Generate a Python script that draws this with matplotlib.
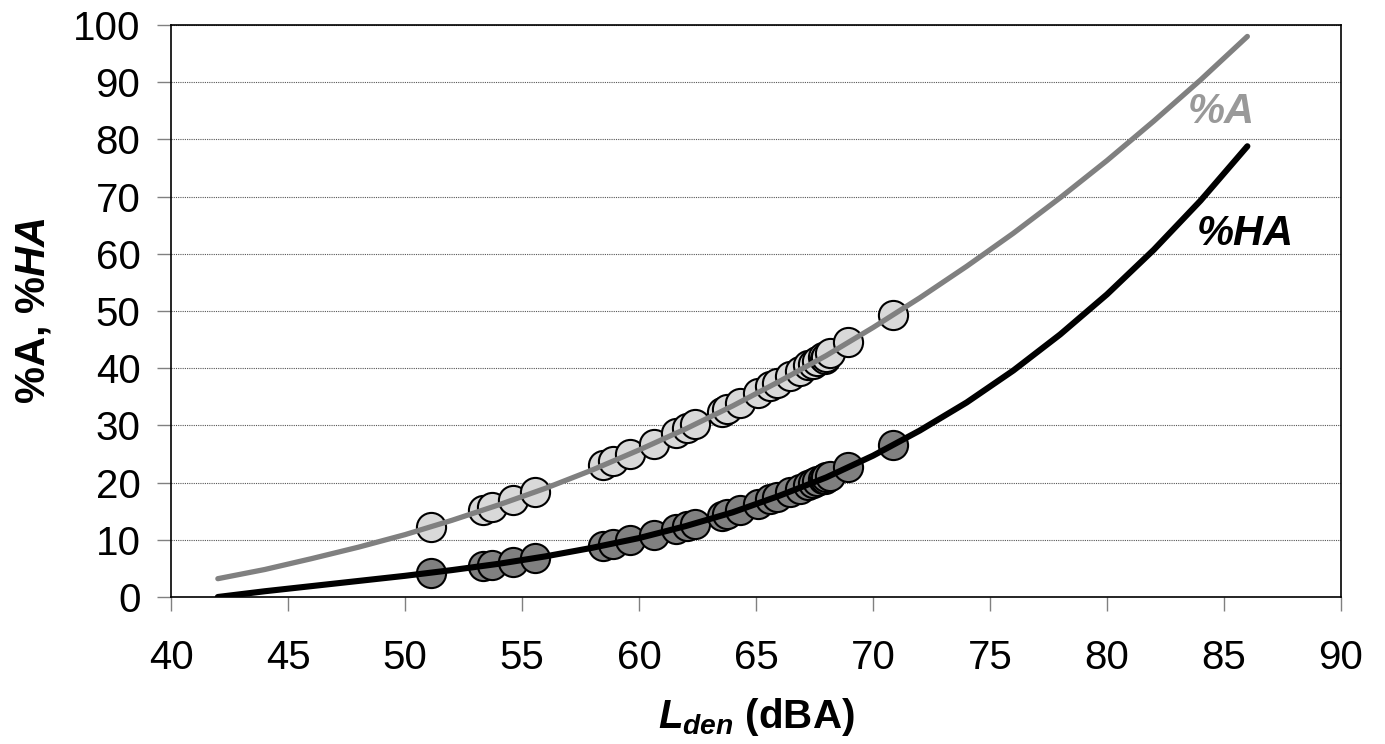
import matplotlib
matplotlib.use("Agg")
import matplotlib.pyplot as plt

# exposure-response curves, every 2 dB
curve_lden = [42, 44, 46, 48, 50, 52, 54, 56, 58, 60, 62, 64, 66, 68, 70,
              72, 74, 76, 78, 80, 82, 84, 86]
curve_a = [3.2, 4.8, 6.7, 8.7, 10.9, 13.4, 16.1, 19.0, 22.2, 25.7, 29.4, 33.4,
           37.7, 42.2, 47.1, 52.3, 57.8, 63.6, 69.8, 76.3, 83.2, 90.4, 98.0]
curve_ha = [0.0, 1.0, 1.9, 2.8, 3.7, 4.7, 5.8, 7.1, 8.6, 10.3, 12.4, 14.8,
            17.7, 20.9, 24.7, 29.1, 34.0, 39.6, 45.9, 52.9, 60.7, 69.3, 78.8]

# measured points (Lden, %A, %HA)
pts_lden = [51.1, 53.35, 53.7, 54.6, 55.56, 58.47, 58.9, 59.6, 60.64, 61.6,
            62.04, 62.4, 63.53, 63.75, 64.3, 65.1, 65.6, 65.9, 66.45, 66.9,
            67.24, 67.45, 67.6, 67.88, 67.95, 68.0, 68.16, 68.95, 70.87]
pts_a = [12.3, 15.2, 15.7, 16.9, 18.4, 23.0, 23.7, 25.0, 26.8, 28.6,
         29.5, 30.2, 32.4, 32.9, 34.0, 35.7, 36.8, 37.4, 38.7, 39.5,
         40.5, 40.8, 41.3, 41.9, 41.6, 41.9, 42.6, 44.5, 49.3]
pts_ha = [4.2, 5.4, 5.6, 6.1, 6.8, 8.9, 9.3, 9.9, 10.9, 11.9,
          12.4, 12.8, 14.2, 14.5, 15.2, 16.3, 17.1, 17.5, 18.4, 18.9,
          19.6, 19.9, 20.3, 20.7, 20.6, 20.9, 21.2, 22.7, 26.6]

xticks = [40, 45, 50, 55, 60, 65, 70, 75, 80, 85, 90]
yticks = [0, 10, 20, 30, 40, 50, 60, 70, 80, 90, 100]

plt.rcParams['font.family'] = ['Liberation Sans', 'DejaVu Sans']
plt.rcParams['mathtext.fontset'] = 'custom'
plt.rcParams['mathtext.it'] = 'Liberation Sans:italic:bold'
plt.rcParams['mathtext.rm'] = 'Liberation Sans:bold'
plt.rcParams['mathtext.bf'] = 'Liberation Sans:bold'

fig = plt.figure(figsize=(13.85, 7.44), dpi=100)
ax = fig.add_axes([0.1235, 0.1976, 0.8447, 0.7688])

# scatter points under the curves
ax.plot(pts_lden, pts_a, 'o', ms=21, mfc='#d9d9d9', mec='black', mew=1.5, zorder=3)
ax.plot(pts_lden, pts_ha, 'o', ms=21, mfc='#808080', mec='black', mew=1.5, zorder=3)

# fitted curves on top
ax.plot(curve_lden, curve_a, color='#808080', lw=3.8, solid_capstyle='round', zorder=4)
ax.plot(curve_lden, curve_ha, color='black', lw=4.4, solid_capstyle='round', zorder=4)

ax.text(84.9, 84.8, '%A', color='#999999', fontsize=30, fontweight='bold',
        fontstyle='italic', ha='center', va='center', zorder=5)
ax.text(85.9, 63.5, '%HA', color='black', fontsize=30, fontweight='bold',
        fontstyle='italic', ha='center', va='center', zorder=5)

ax.set_xlim(40, 90)
ax.set_ylim(0, 100)
ax.set_xticks(xticks)
ax.set_yticks(yticks)
ax.set_xticklabels([str(t) for t in xticks], fontsize=29)
ax.set_yticklabels([str(t) for t in yticks], fontsize=29)
ax.tick_params(axis='x', direction='out', length=10, width=1, color='#808080', pad=20)
ax.tick_params(axis='y', direction='out', length=10, width=1, color='#808080', pad=12)

ax.grid(axis='y', linestyle=(0, (1, 1)), color='#555555', lw=0.8)
ax.set_axisbelow(True)
for s in ax.spines.values():
    s.set_linewidth(1.2)
    s.set_color('black')

ax.set_ylabel(r'%A, %$\mathit{HA}$', fontsize=30, fontweight='bold', labelpad=14)
ax.set_xlabel(r'$L_{den}$ (dBA)', fontsize=29, fontweight='bold', labelpad=14)

fig.savefig('out.png', dpi=100)
